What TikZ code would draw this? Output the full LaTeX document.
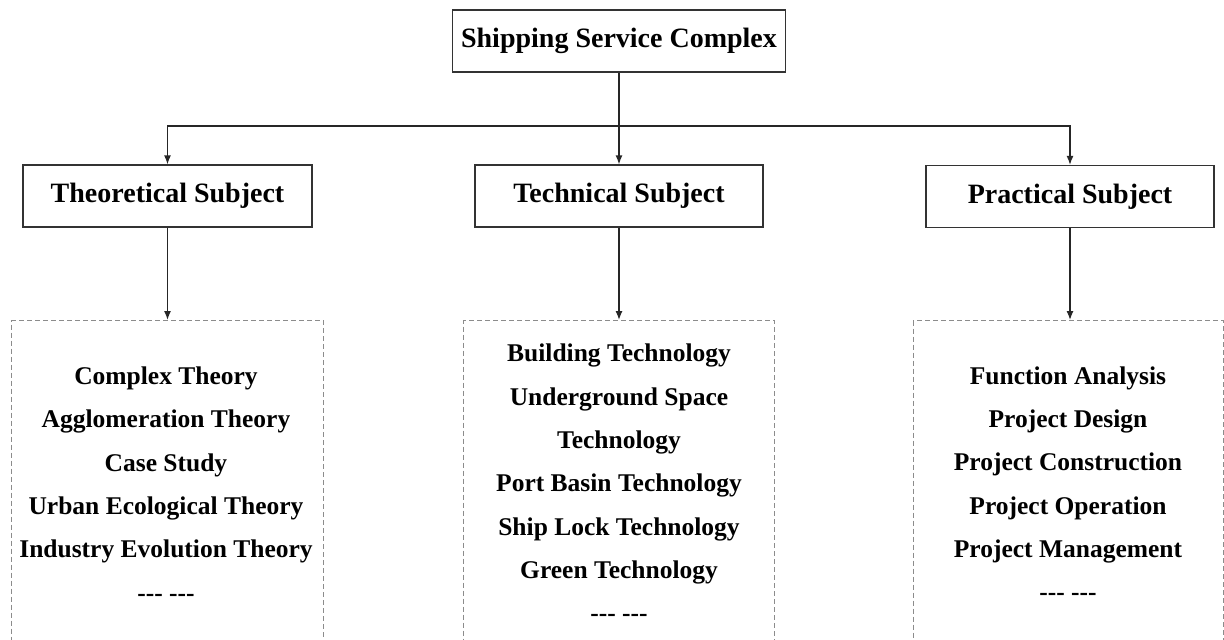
\documentclass[tikz,border=0pt]{standalone}
\usepackage{fontspec}
\setmainfont{Liberation Serif}
\usetikzlibrary{arrows.meta}
\newcommand{\hyph}{-{}-{}-}
\begin{document}
\begin{tikzpicture}[x=1pt,y=-1pt,
  box/.style={draw=black!80,line width=1.3pt,fill=white,inner sep=0pt,
    font=\fontsize{28}{32}\selectfont\bfseries},
  dbox/.style={draw=black!45,line width=1pt,dash pattern=on 5pt off 3pt,inner sep=0pt,anchor=north west},
  list/.style={align=center,inner sep=0pt,font=\fontsize{25.5}{43.3}\selectfont\bfseries},
  conn/.style={draw=black!85,line width=1.3pt},
  arr/.style={conn,-{Latex[length=9pt,width=7pt]}}]
\useasboundingbox (0,0) rectangle (1224,640);
\clip (0,0) rectangle (1224,640);
\fill[white] (0,0) rectangle (1224,640);

\node[box,minimum width=333pt,minimum height=62pt] (top) at (619,41) {Shipping Service Complex};
\node[box,minimum width=289pt,minimum height=62pt] (theo) at (167.5,196) {Theoretical Subject};
\node[box,minimum width=288pt,minimum height=62pt] (tech) at (619,196) {Technical Subject};
\node[box,minimum width=288pt,minimum height=62pt] (prac) at (1070,196.5) {Practical Subject};

\node[dbox,minimum width=312pt,minimum height=340pt] (tl) at (11,320) {};
\node[dbox,minimum width=311pt,minimum height=340pt] (kl) at (463,320) {};
\node[dbox,minimum width=310pt,minimum height=340pt] (pl) at (913,320) {};

\node[list] (tt) at (166,484) {Complex Theory\\Agglomeration Theory\\Case Study\\Urban Ecological Theory\\Industry Evolution Theory\\\hyph\ \hyph};
\node[list] (kt) at (619,483) {Building Technology\\Underground Space\\Technology\\Port Basin Technology\\Ship Lock Technology\\Green Technology\\\hyph\ \hyph};
\node[list] (pt) at (1068,483.5) {Function Analysis\\Project Design\\Project Construction\\Project Operation\\Project Management\\\hyph\ \hyph};

\coordinate (j) at (619,126);
\draw[conn] (top.south) -- (j);
\draw[arr] (j) -| (theo.north);
\draw[arr] (j) -| (prac.north);
\draw[arr] (j) -- (tech.north);
\draw[arr] (theo.south) -- (theo.south |- tl.north);
\draw[arr] (tech.south) -- (tech.south |- kl.north);
\draw[arr] (prac.south) -- (prac.south |- pl.north);
\end{tikzpicture}
\end{document}
